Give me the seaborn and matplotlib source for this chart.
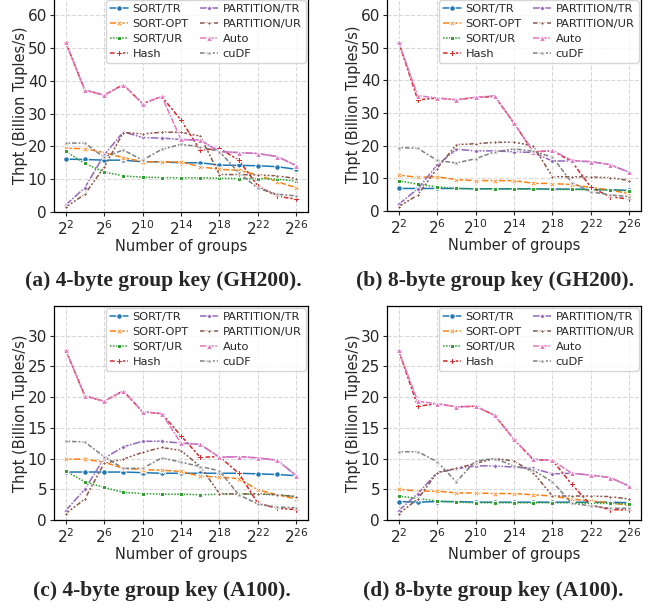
import numpy as np
import pandas as pd
import matplotlib
matplotlib.use("Agg")
import matplotlib.pyplot as plt
import seaborn as sns

# x axis: number of groups = 2^e
exponents = [2, 4, 6, 8, 10, 12, 14, 16, 18, 20, 22, 24, 26]
methods = ["SORT/TR", "SORT-OPT", "SORT/UR", "Hash",
           "PARTITION/TR", "PARTITION/UR", "Auto", "cuDF"]

# (a) 4-byte group key (GH200)
gh200_4b = {
    "SORT/TR":      [16.1, 16.0, 15.8, 15.8, 15.3, 15.3, 15.0, 15.0, 14.3, 14.2, 14.1, 13.8, 13.0],
    "SORT-OPT":     [19.4, 19.3, 18.1, 16.6, 15.3, 15.3, 15.2, 13.8, 13.0, 12.7, 11.3, 9.2, 7.4],
    "SORT/UR":      [18.5, 14.8, 12.2, 11.0, 10.6, 10.5, 10.4, 10.4, 10.3, 10.2, 10.2, 10.0, 9.4],
    "Hash":         [51.8, 37.2, 35.6, 38.8, 33.0, 35.2, 28.0, 18.8, 19.4, 15.8, 7.9, 4.8, 3.9],
    "PARTITION/TR": [2.1, 7.4, 17.3, 24.4, 22.7, 22.5, 22.1, 21.9, 18.4, 18.1, 17.8, 16.9, 14.1],
    "PARTITION/UR": [1.4, 5.4, 13.6, 24.2, 23.8, 24.3, 24.3, 23.1, 11.4, 11.4, 11.3, 11.0, 10.2],
    "Auto":         [51.8, 37.1, 35.6, 38.8, 33.0, 35.2, 22.1, 21.9, 18.4, 18.1, 17.8, 16.9, 14.1],
    "cuDF":         [21.0, 21.0, 16.7, 18.9, 15.8, 19.1, 20.6, 19.9, 18.4, 12.0, 7.2, 5.4, 4.9],
}

# (b) 8-byte group key (GH200)
gh200_8b = {
    "SORT/TR":      [6.9, 6.9, 6.9, 6.9, 6.8, 6.8, 6.8, 6.8, 6.7, 6.7, 6.6, 6.5, 6.3],
    "SORT-OPT":     [11.0, 10.3, 10.5, 9.6, 9.3, 9.3, 9.3, 8.5, 8.4, 8.1, 7.2, 6.4, 5.3],
    "SORT/UR":      [9.3, 8.2, 7.4, 6.9, 6.8, 6.7, 6.7, 6.7, 6.6, 6.6, 6.5, 6.4, 6.2],
    "Hash":         [51.8, 34.0, 34.6, 34.0, 34.8, 35.0, 26.9, 18.1, 18.4, 15.2, 7.2, 4.4, 3.6],
    "PARTITION/TR": [2.0, 6.8, 14.0, 18.9, 18.4, 18.4, 18.1, 17.9, 15.3, 15.3, 15.1, 14.2, 11.8],
    "PARTITION/UR": [1.3, 4.9, 13.0, 20.3, 20.6, 21.0, 21.1, 19.9, 10.5, 10.5, 10.4, 10.2, 9.3],
    "Auto":         [51.8, 35.3, 34.6, 34.1, 34.8, 35.3, 26.9, 18.1, 18.6, 15.5, 15.1, 14.2, 11.8],
    "cuDF":         [19.4, 19.2, 15.5, 14.7, 16.0, 18.1, 19.0, 18.3, 16.5, 8.7, 5.9, 4.9, 4.4],
}

# (c) 4-byte group key (A100)
a100_4b = {
    "SORT/TR":      [7.8, 7.8, 7.8, 7.8, 7.7, 7.6, 7.6, 7.6, 7.6, 7.6, 7.5, 7.4, 7.2],
    "SORT-OPT":     [9.9, 9.9, 9.4, 8.4, 8.2, 8.1, 7.9, 7.1, 7.0, 6.7, 4.9, 4.1, 3.4],
    "SORT/UR":      [8.0, 6.2, 5.3, 4.5, 4.3, 4.2, 4.2, 4.1, 4.2, 4.2, 4.2, 4.1, 3.8],
    "Hash":         [27.7, 20.2, 19.3, 21.0, 17.6, 17.3, 13.7, 10.2, 10.3, 7.6, 2.7, 1.9, 1.7],
    "PARTITION/TR": [1.5, 5.0, 10.0, 11.9, 12.8, 12.8, 12.5, 12.3, 10.2, 10.3, 10.1, 9.7, 7.2],
    "PARTITION/UR": [1.0, 3.4, 9.2, 9.9, 11.0, 11.8, 11.3, 8.7, 4.3, 4.2, 4.3, 4.1, 3.8],
    "Auto":         [27.7, 20.2, 19.3, 21.0, 17.6, 17.3, 12.5, 12.3, 10.2, 10.3, 10.1, 9.7, 7.2],
    "cuDF":         [12.8, 12.7, 10.3, 8.4, 8.4, 10.1, 9.4, 8.7, 8.0, 4.1, 2.6, 2.1, 2.0],
}

# (d) 8-byte group key (A100)
a100_8b = {
    "SORT/TR":      [3.0, 2.9, 3.0, 3.0, 2.9, 2.9, 2.9, 2.9, 2.9, 2.9, 2.9, 2.9, 2.8],
    "SORT-OPT":     [5.0, 4.7, 4.7, 4.4, 4.4, 4.3, 4.3, 4.1, 3.9, 3.4, 3.1, 2.8, 2.4],
    "SORT/UR":      [3.9, 3.5, 3.1, 2.9, 2.8, 2.8, 2.8, 2.8, 2.8, 2.8, 2.7, 2.7, 2.6],
    "Hash":         [27.6, 18.5, 18.9, 18.4, 18.5, 17.0, 13.1, 9.8, 9.7, 5.8, 2.4, 1.7, 1.6],
    "PARTITION/TR": [1.5, 4.3, 7.7, 8.3, 8.8, 8.8, 8.6, 8.4, 7.5, 7.6, 7.3, 6.9, 5.5],
    "PARTITION/UR": [1.0, 3.4, 7.7, 8.4, 9.2, 10.0, 9.6, 7.7, 3.9, 3.9, 3.9, 3.8, 3.4],
    "Auto":         [27.6, 19.3, 18.9, 18.4, 18.5, 17.0, 13.1, 9.9, 9.7, 7.6, 7.3, 6.9, 5.5],
    "cuDF":         [11.1, 11.1, 9.5, 6.2, 9.6, 10.0, 8.8, 8.1, 6.2, 2.7, 2.3, 1.9, 1.9],
}

captions = ["(a) 4-byte group key (GH200).", "(b) 8-byte group key (GH200).",
            "(c) 4-byte group key (A100).", "(d) 8-byte group key (A100)."]
y_limits = [65.2, 65.2, 34.8, 34.8]
y_ticks = [list(range(0, 61, 10)), list(range(0, 61, 10)),
           list(range(0, 31, 5)), list(range(0, 31, 5))]
x_ticks = [2 ** e for e in range(2, 27, 4)]

sns.set_style("white")
plt.rcParams["font.family"] = ["DejaVu Sans"]
plt.rcParams["axes.edgecolor"] = "black"
plt.rcParams["xtick.bottom"] = True
plt.rcParams["ytick.left"] = True

W, H = 655, 608
fig = plt.figure(figsize=(W / 100, H / 100), dpi=100)

# axes boxes in pixels: left, top, right, bottom
boxes = [(54, -2, 308, 212), (387, -2, 641, 211),
         (54, 306, 308, 520), (387, 306, 641, 520)]
cap_pos = [(163, 281), (495, 281), (162, 591), (493, 591)]

panels = [gh200_4b, gh200_8b, a100_4b, a100_8b]
for i, data in enumerate(panels):
    l, t, r, b = boxes[i]
    ax = fig.add_axes([l / W, 1 - b / H, (r - l) / W, (b - t) / H])
    rows = []
    for m in methods:
        for e, v in zip(exponents, data[m]):
            rows.append({"groups": 2 ** e, "thpt": v, "method": m})
    df = pd.DataFrame(rows)
    sns.lineplot(data=df, x="groups", y="thpt", hue="method", style="method",
                 hue_order=methods, style_order=methods, markers=True, dashes=True,
                 palette="tab10", linewidth=1.1, markersize=4, ax=ax)
    ax.set_xscale("log", base=2)
    ax.set_xticks(x_ticks)
    ax.xaxis.set_minor_locator(matplotlib.ticker.NullLocator())
    ax.set_ylim(0, y_limits[i])
    ax.set_yticks(y_ticks[i])
    ax.grid(True, linestyle="--", color="#d8d8d8", linewidth=0.8)
    ax.tick_params(labelsize=11, length=3, width=0.8, pad=2)
    ax.set_xlabel("Number of groups", fontsize=10.5, labelpad=1)
    ax.set_ylabel("Thpt (Billion Tuples/s)", fontsize=10.5, labelpad=0)
    for sp in ax.spines.values():
        sp.set_color("black")
        sp.set_linewidth(0.9)
    leg = ax.legend(ncol=2, loc="upper right", fontsize=8.2, frameon=True,
                    borderaxespad=0.2, handlelength=1.6, handletextpad=0.4,
                    columnspacing=1.0, labelspacing=0.42, borderpad=0.35,
                    fancybox=True)
    leg.get_frame().set_edgecolor("#cccccc")
    cx, cy = cap_pos[i]
    fig.text(cx / W, 1 - cy / H, captions[i], ha="center", va="center",
             fontsize=15.5, fontweight="bold", family=["Liberation Serif"])

fig.savefig("out.png", dpi=100)
